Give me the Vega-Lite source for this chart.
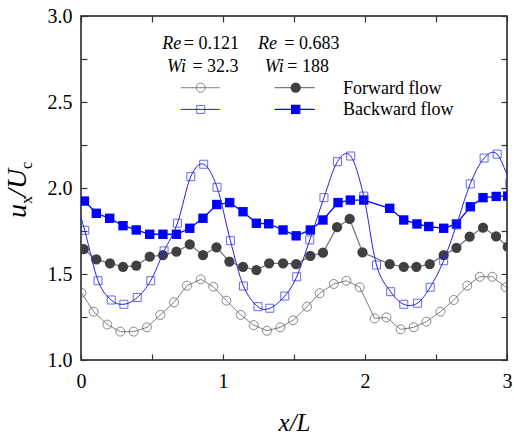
{
  "$schema": "https://vega.github.io/schema/vega-lite/v6.json",
  "autosize": {"type": "none"},
  "padding": {"left": 81, "top": 16, "right": 7, "bottom": 76},
  "width": 426,
  "height": 344,
  "background": "#ffffff",
  "datasets": {
    "forward_re0121": [
      {"x_L": 0.003, "u_Uc": 1.391}, {"x_L": 0.089, "u_Uc": 1.281}, {"x_L": 0.185, "u_Uc": 1.206},
      {"x_L": 0.277, "u_Uc": 1.165}, {"x_L": 0.371, "u_Uc": 1.165}, {"x_L": 0.465, "u_Uc": 1.19},
      {"x_L": 0.559, "u_Uc": 1.262}, {"x_L": 0.655, "u_Uc": 1.335}, {"x_L": 0.746, "u_Uc": 1.432},
      {"x_L": 0.843, "u_Uc": 1.469}, {"x_L": 0.932, "u_Uc": 1.426}, {"x_L": 1.024, "u_Uc": 1.345},
      {"x_L": 1.125, "u_Uc": 1.262}, {"x_L": 1.216, "u_Uc": 1.203}, {"x_L": 1.309, "u_Uc": 1.17},
      {"x_L": 1.404, "u_Uc": 1.19}, {"x_L": 1.493, "u_Uc": 1.231}, {"x_L": 1.592, "u_Uc": 1.31},
      {"x_L": 1.681, "u_Uc": 1.388}, {"x_L": 1.78, "u_Uc": 1.442}, {"x_L": 1.869, "u_Uc": 1.461},
      {"x_L": 1.963, "u_Uc": 1.423}, {"x_L": 2.068, "u_Uc": 1.242}, {"x_L": 2.151, "u_Uc": 1.248},
      {"x_L": 2.251, "u_Uc": 1.178}, {"x_L": 2.343, "u_Uc": 1.19}, {"x_L": 2.432, "u_Uc": 1.223},
      {"x_L": 2.531, "u_Uc": 1.281}, {"x_L": 2.625, "u_Uc": 1.349}, {"x_L": 2.72, "u_Uc": 1.432},
      {"x_L": 2.808, "u_Uc": 1.484}, {"x_L": 2.897, "u_Uc": 1.484}, {"x_L": 2.991, "u_Uc": 1.423}
    ],
    "forward_re0683": [
      {"x_L": 0.019, "u_Uc": 1.644}, {"x_L": 0.108, "u_Uc": 1.585}, {"x_L": 0.204, "u_Uc": 1.562},
      {"x_L": 0.296, "u_Uc": 1.542}, {"x_L": 0.389, "u_Uc": 1.549}, {"x_L": 0.484, "u_Uc": 1.601},
      {"x_L": 0.577, "u_Uc": 1.61}, {"x_L": 0.672, "u_Uc": 1.63}, {"x_L": 0.766, "u_Uc": 1.672},
      {"x_L": 0.859, "u_Uc": 1.61}, {"x_L": 0.954, "u_Uc": 1.655}, {"x_L": 1.045, "u_Uc": 1.572},
      {"x_L": 1.141, "u_Uc": 1.542}, {"x_L": 1.235, "u_Uc": 1.523}, {"x_L": 1.325, "u_Uc": 1.562},
      {"x_L": 1.423, "u_Uc": 1.562}, {"x_L": 1.515, "u_Uc": 1.558}, {"x_L": 1.615, "u_Uc": 1.605},
      {"x_L": 1.704, "u_Uc": 1.624}, {"x_L": 1.803, "u_Uc": 1.772}, {"x_L": 1.892, "u_Uc": 1.82},
      {"x_L": 1.982, "u_Uc": 1.626}, {"x_L": 2.174, "u_Uc": 1.558}, {"x_L": 2.273, "u_Uc": 1.542},
      {"x_L": 2.362, "u_Uc": 1.542}, {"x_L": 2.456, "u_Uc": 1.558}, {"x_L": 2.554, "u_Uc": 1.61},
      {"x_L": 2.644, "u_Uc": 1.652}, {"x_L": 2.737, "u_Uc": 1.717}, {"x_L": 2.831, "u_Uc": 1.77},
      {"x_L": 2.923, "u_Uc": 1.719}, {"x_L": 3.005, "u_Uc": 1.659}
    ],
    "backward_re0121": [
      {"x_L": -0.067, "u_Uc": 2.02}, {"x_L": 0.026, "u_Uc": 1.754}, {"x_L": 0.12, "u_Uc": 1.461},
      {"x_L": 0.213, "u_Uc": 1.349}, {"x_L": 0.302, "u_Uc": 1.324}, {"x_L": 0.396, "u_Uc": 1.363},
      {"x_L": 0.491, "u_Uc": 1.461}, {"x_L": 0.585, "u_Uc": 1.634}, {"x_L": 0.679, "u_Uc": 1.795},
      {"x_L": 0.773, "u_Uc": 2.066}, {"x_L": 0.864, "u_Uc": 2.138}, {"x_L": 0.958, "u_Uc": 2.004},
      {"x_L": 1.052, "u_Uc": 1.694}, {"x_L": 1.144, "u_Uc": 1.43}, {"x_L": 1.246, "u_Uc": 1.31},
      {"x_L": 1.33, "u_Uc": 1.301}, {"x_L": 1.435, "u_Uc": 1.372}, {"x_L": 1.519, "u_Uc": 1.484},
      {"x_L": 1.611, "u_Uc": 1.698}, {"x_L": 1.711, "u_Uc": 1.944}, {"x_L": 1.806, "u_Uc": 2.153},
      {"x_L": 1.899, "u_Uc": 2.186}, {"x_L": 1.991, "u_Uc": 1.953}, {"x_L": 2.081, "u_Uc": 1.552},
      {"x_L": 2.181, "u_Uc": 1.397}, {"x_L": 2.273, "u_Uc": 1.324}, {"x_L": 2.369, "u_Uc": 1.33},
      {"x_L": 2.459, "u_Uc": 1.423}, {"x_L": 2.554, "u_Uc": 1.577}, {"x_L": 2.644, "u_Uc": 1.785},
      {"x_L": 2.741, "u_Uc": 2.024}, {"x_L": 2.839, "u_Uc": 2.174}, {"x_L": 2.931, "u_Uc": 2.197},
      {"x_L": 3.02, "u_Uc": 2.03}
    ],
    "backward_re0683": [
      {"x_L": 0.024, "u_Uc": 1.924}, {"x_L": 0.108, "u_Uc": 1.853}, {"x_L": 0.202, "u_Uc": 1.824},
      {"x_L": 0.296, "u_Uc": 1.781}, {"x_L": 0.389, "u_Uc": 1.756}, {"x_L": 0.484, "u_Uc": 1.731},
      {"x_L": 0.577, "u_Uc": 1.731}, {"x_L": 0.672, "u_Uc": 1.731}, {"x_L": 0.766, "u_Uc": 1.766},
      {"x_L": 0.859, "u_Uc": 1.824}, {"x_L": 0.956, "u_Uc": 1.904}, {"x_L": 1.047, "u_Uc": 1.915},
      {"x_L": 1.141, "u_Uc": 1.862}, {"x_L": 1.235, "u_Uc": 1.795}, {"x_L": 1.322, "u_Uc": 1.792},
      {"x_L": 1.423, "u_Uc": 1.756}, {"x_L": 1.515, "u_Uc": 1.722}, {"x_L": 1.615, "u_Uc": 1.756},
      {"x_L": 1.704, "u_Uc": 1.814}, {"x_L": 1.81, "u_Uc": 1.915}, {"x_L": 1.897, "u_Uc": 1.93},
      {"x_L": 1.991, "u_Uc": 1.93}, {"x_L": 2.174, "u_Uc": 1.882}, {"x_L": 2.273, "u_Uc": 1.814},
      {"x_L": 2.366, "u_Uc": 1.791}, {"x_L": 2.449, "u_Uc": 1.776}, {"x_L": 2.554, "u_Uc": 1.766},
      {"x_L": 2.644, "u_Uc": 1.791}, {"x_L": 2.742, "u_Uc": 1.891}, {"x_L": 2.831, "u_Uc": 1.944},
      {"x_L": 2.924, "u_Uc": 1.951}, {"x_L": 3.005, "u_Uc": 1.953}
    ]
  },
  "resolve": {"axis": {"x": "independent", "y": "independent"}},
  "layer": [
    {
      "data": {"name": "forward_re0121"},
      "mark": {"type": "line", "color": "#808080", "strokeWidth": 1, "clip": true},
      "encoding": {
        "x": {
          "field": "x_L", "type": "quantitative", "scale": {"domain": [0, 3], "nice": false},
          "axis": {
            "orient": "bottom", "values": [0, 0.5, 1, 1.5, 2, 2.5, 3],
            "labelExpr": "datum.value % 1 === 0 ? format(datum.value, 'd') : ''",
            "labelFlush": false, "labelOverlap": false, "labelPadding": 17,
            "labelFontSize": 20,
            "title": "x/L", "titleFontStyle": "italic", "titleFontSize": 25,
            "titleFontWeight": "normal", "titleColor": "#000", "titlePadding": 19
          }
        },
        "y": {
          "field": "u_Uc", "type": "quantitative", "scale": {"domain": [1, 3], "nice": false},
          "axis": {
            "orient": "left", "values": [1, 1.25, 1.5, 1.75, 2, 2.25, 2.5, 2.75, 3],
            "labelExpr": "datum.value % 0.5 === 0 ? format(datum.value, '.1f') : ''",
            "labelFontSize": 20,
            "labelOverlap": false, "labelFlush": false, "labelPadding": 15, "title": null
          }
        }
      }
    },
    {
      "data": {"name": "forward_re0121"},
      "mark": {"type": "point", "shape": "circle", "filled": false, "stroke": "#555555", "strokeWidth": 1, "size": 81, "clip": true},
      "encoding": {
        "x": {"field": "x_L", "type": "quantitative", "axis": null},
        "y": {"field": "u_Uc", "type": "quantitative", "axis": null}
      }
    },
    {
      "data": {"name": "forward_re0683"},
      "mark": {"type": "line", "color": "#7a7a7a", "strokeWidth": 1.3, "clip": true},
      "encoding": {
        "x": {
          "field": "x_L", "type": "quantitative",
          "axis": {"orient": "top", "values": [0, 0.5, 1, 1.5, 2, 2.5, 3], "labels": false, "title": null}
        },
        "y": {
          "field": "u_Uc", "type": "quantitative",
          "axis": {"orient": "right", "values": [1, 1.25, 1.5, 1.75, 2, 2.25, 2.5, 2.75, 3], "labels": false, "title": null}
        }
      }
    },
    {
      "data": {"name": "forward_re0683"},
      "mark": {"type": "point", "shape": "circle", "filled": true, "color": "#404040", "opacity": 1, "size": 105, "clip": true},
      "encoding": {
        "x": {"field": "x_L", "type": "quantitative", "axis": null},
        "y": {"field": "u_Uc", "type": "quantitative", "axis": null}
      }
    },
    {
      "data": {"name": "backward_re0683"},
      "mark": {"type": "line", "color": "#0000ff", "strokeWidth": 1.3, "clip": true},
      "encoding": {
        "x": {"field": "x_L", "type": "quantitative", "axis": null},
        "y": {"field": "u_Uc", "type": "quantitative", "axis": null}
      }
    },
    {
      "data": {"name": "backward_re0683"},
      "mark": {"type": "point", "shape": "square", "filled": true, "color": "#0000ff", "opacity": 1, "size": 88, "clip": true},
      "encoding": {
        "x": {"field": "x_L", "type": "quantitative", "axis": null},
        "y": {"field": "u_Uc", "type": "quantitative", "axis": null}
      }
    },
    {
      "data": {"name": "backward_re0121"},
      "mark": {"type": "line", "color": "#2020e6", "strokeWidth": 1, "interpolate": "cardinal", "clip": true},
      "encoding": {
        "x": {"field": "x_L", "type": "quantitative", "axis": null},
        "y": {"field": "u_Uc", "type": "quantitative", "axis": null}
      }
    },
    {
      "data": {"name": "backward_re0121"},
      "mark": {"type": "point", "shape": "square", "filled": false, "stroke": "#2a2ae8", "strokeWidth": 1, "size": 64, "clip": true},
      "encoding": {
        "x": {"field": "x_L", "type": "quantitative", "axis": null},
        "y": {"field": "u_Uc", "type": "quantitative", "axis": null}
      }
    },
    {
      "data": {"values": [{}]},
      "layer": [
        {"mark": {"type": "text", "text": "Re", "fontStyle": "italic", "fontSize": 18, "align": "left", "baseline": "alphabetic", "color": "#000"},
         "encoding": {"x": {"datum": 0.573, "axis": null}, "y": {"datum": 2.806, "axis": null}}},
        {"mark": {"type": "text", "text": "= 0.121", "fontSize": 18, "align": "left", "baseline": "alphabetic", "color": "#000"},
         "encoding": {"x": {"datum": 0.724, "axis": null}, "y": {"datum": 2.806, "axis": null}}},
        {"mark": {"type": "text", "text": "Wi", "fontStyle": "italic", "fontSize": 18, "align": "left", "baseline": "alphabetic", "color": "#000"},
         "encoding": {"x": {"datum": 0.606, "axis": null}, "y": {"datum": 2.676, "axis": null}}},
        {"mark": {"type": "text", "text": "= 32.3", "fontSize": 18, "align": "left", "baseline": "alphabetic", "color": "#000"},
         "encoding": {"x": {"datum": 0.785, "axis": null}, "y": {"datum": 2.676, "axis": null}}},
        {"mark": {"type": "text", "text": "Re", "fontStyle": "italic", "fontSize": 18, "align": "left", "baseline": "alphabetic", "color": "#000"},
         "encoding": {"x": {"datum": 1.247, "axis": null}, "y": {"datum": 2.806, "axis": null}}},
        {"mark": {"type": "text", "text": "= 0.683", "fontSize": 18, "align": "left", "baseline": "alphabetic", "color": "#000"},
         "encoding": {"x": {"datum": 1.432, "axis": null}, "y": {"datum": 2.806, "axis": null}}},
        {"mark": {"type": "text", "text": "Wi", "fontStyle": "italic", "fontSize": 18, "align": "left", "baseline": "alphabetic", "color": "#000"},
         "encoding": {"x": {"datum": 1.294, "axis": null}, "y": {"datum": 2.676, "axis": null}}},
        {"mark": {"type": "text", "text": "= 188", "fontSize": 18, "align": "left", "baseline": "alphabetic", "color": "#000"},
         "encoding": {"x": {"datum": 1.453, "axis": null}, "y": {"datum": 2.676, "axis": null}}},
        {"mark": {"type": "rule", "color": "#808080", "strokeWidth": 1},
         "encoding": {"x": {"datum": 0.702, "axis": null}, "x2": {"datum": 0.977}, "y": {"datum": 2.583, "axis": null}}},
        {"mark": {"type": "point", "shape": "circle", "filled": false, "stroke": "#555555", "strokeWidth": 1, "size": 81},
         "encoding": {"x": {"datum": 0.843, "axis": null}, "y": {"datum": 2.583, "axis": null}}},
        {"mark": {"type": "rule", "color": "#7a7a7a", "strokeWidth": 1.3},
         "encoding": {"x": {"datum": 1.364, "axis": null}, "x2": {"datum": 1.646}, "y": {"datum": 2.583, "axis": null}}},
        {"mark": {"type": "point", "shape": "circle", "filled": true, "color": "#404040", "opacity": 1, "size": 105},
         "encoding": {"x": {"datum": 1.512, "axis": null}, "y": {"datum": 2.583, "axis": null}}},
        {"mark": {"type": "rule", "color": "#2020e6", "strokeWidth": 1},
         "encoding": {"x": {"datum": 0.702, "axis": null}, "x2": {"datum": 0.977}, "y": {"datum": 2.457, "axis": null}}},
        {"mark": {"type": "point", "shape": "square", "filled": false, "stroke": "#2a2ae8", "strokeWidth": 1, "size": 64},
         "encoding": {"x": {"datum": 0.843, "axis": null}, "y": {"datum": 2.457, "axis": null}}},
        {"mark": {"type": "rule", "color": "#0000ff", "strokeWidth": 1.3},
         "encoding": {"x": {"datum": 1.364, "axis": null}, "x2": {"datum": 1.646}, "y": {"datum": 2.457, "axis": null}}},
        {"mark": {"type": "point", "shape": "square", "filled": true, "color": "#0000ff", "opacity": 1, "size": 88},
         "encoding": {"x": {"datum": 1.512, "axis": null}, "y": {"datum": 2.457, "axis": null}}},
        {"mark": {"type": "text", "text": "Forward flow", "fontSize": 18, "align": "left", "baseline": "alphabetic", "color": "#000"},
         "encoding": {"x": {"datum": 1.845, "axis": null}, "y": {"datum": 2.5465, "axis": null}}},
        {"mark": {"type": "text", "text": "Backward flow", "fontSize": 18, "align": "left", "baseline": "alphabetic", "color": "#000"},
         "encoding": {"x": {"datum": 1.845, "axis": null}, "y": {"datum": 2.424, "axis": null}}}
      ]
    },
    {
      "data": {"values": [{}]},
      "layer": [
        {"mark": {"type": "text", "text": "u", "fontStyle": "italic", "fontSize": 28, "angle": 270, "align": "left", "baseline": "alphabetic", "color": "#000"},
         "encoding": {"x": {"value": -55}, "y": {"value": 202}}},
        {"mark": {"type": "text", "text": "x", "fontSize": 16, "angle": 270, "align": "left", "baseline": "alphabetic", "color": "#000"},
         "encoding": {"x": {"value": -49}, "y": {"value": 188}}},
        {"mark": {"type": "text", "text": "/", "fontStyle": "italic", "fontSize": 28, "angle": 270, "align": "left", "baseline": "alphabetic", "color": "#000"},
         "encoding": {"x": {"value": -55}, "y": {"value": 181}}},
        {"mark": {"type": "text", "text": "U", "fontStyle": "italic", "fontSize": 28, "angle": 270, "align": "left", "baseline": "alphabetic", "color": "#000"},
         "encoding": {"x": {"value": -55}, "y": {"value": 173}}},
        {"mark": {"type": "text", "text": "c", "fontSize": 16, "angle": 270, "align": "left", "baseline": "alphabetic", "color": "#000"},
         "encoding": {"x": {"value": -49}, "y": {"value": 153}}}
      ]
    }
  ],
  "config": {
    "font": "Liberation Serif",
    "view": {"stroke": "#1a1a1a", "strokeWidth": 1.5},
    "axis": {
      "grid": false, "domain": false,
      "labelFont": "Liberation Serif", "labelFontSize": 20, "labelColor": "#000",
      "tickColor": "#333333", "tickWidth": 1.2, "tickSize": -6,
      "titleFont": "Liberation Serif"
    }
  }
}
